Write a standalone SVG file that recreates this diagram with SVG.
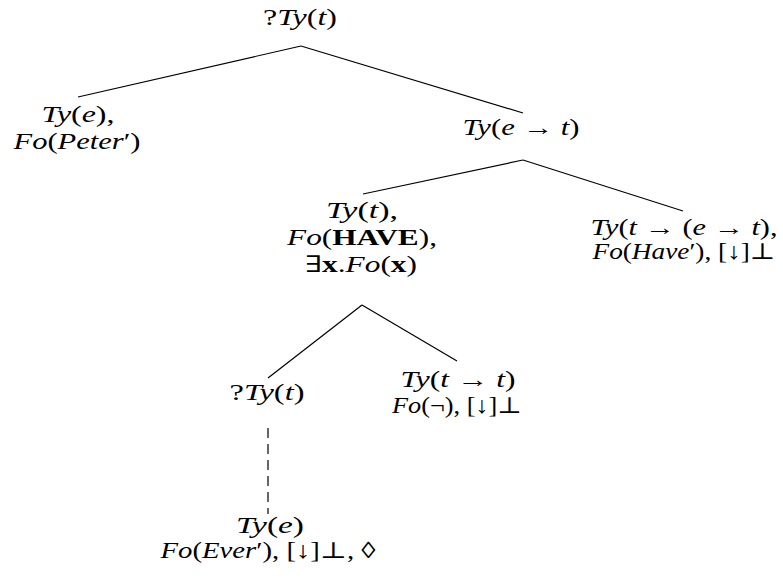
<svg xmlns="http://www.w3.org/2000/svg" width="783" height="582" viewBox="0 0 783 582">
<style>
text { font-family: "Liberation Serif", "DejaVu Serif", serif; font-size: 23px; fill: #000; text-anchor: middle; }
.i { font-style: italic; }
.b { font-weight: bold; }
.edge { stroke: #000; stroke-width: 1.2; fill: none; }
.dash { stroke-dasharray: 10 6; }
</style>
<rect width="783" height="582" fill="#fff"/>
<g id="connectors">
  <line class="edge" x1="301" y1="46" x2="78" y2="97"/>
  <line class="edge" x1="301" y1="46" x2="523" y2="113"/>
  <line class="edge" x1="523" y1="160" x2="363" y2="194"/>
  <line class="edge" x1="523" y1="160" x2="683" y2="211"/>
  <line class="edge" x1="362" y1="305" x2="268" y2="378"/>
  <line class="edge" x1="362" y1="305" x2="457" y2="361"/>
  <line class="edge dash" x1="268" y1="428" x2="268" y2="514"/>
</g>
<g id="root">
  <text x="300" y="25" textLength="74" lengthAdjust="spacingAndGlyphs">?<tspan class="i">Ty</tspan>(<tspan class="i">t</tspan>)</text>
</g>
<g id="peter">
  <text x="78" y="122" textLength="73" lengthAdjust="spacingAndGlyphs"><tspan class="i">Ty</tspan>(<tspan class="i">e</tspan>),</text>
  <text x="77" y="149" textLength="127" lengthAdjust="spacingAndGlyphs"><tspan class="i">Fo</tspan>(<tspan class="i">Peter</tspan>′)</text>
</g>
<g id="et">
  <text x="521" y="135" textLength="117" lengthAdjust="spacingAndGlyphs"><tspan class="i">Ty</tspan>(<tspan class="i">e</tspan> → <tspan class="i">t</tspan>)</text>
</g>
<g id="have">
  <text x="362" y="218" textLength="72" lengthAdjust="spacingAndGlyphs"><tspan class="i">Ty</tspan>(<tspan class="i">t</tspan>),</text>
  <text x="362" y="245" textLength="150" lengthAdjust="spacingAndGlyphs"><tspan class="i">Fo</tspan>(<tspan class="b">HAVE</tspan>),</text>
  <text x="361" y="272" textLength="112" lengthAdjust="spacingAndGlyphs">∃<tspan class="b">x</tspan>.<tspan class="i">Fo</tspan>(<tspan class="b">x</tspan>)</text>
</g>
<g id="havep">
  <text x="684" y="235" textLength="187" lengthAdjust="spacingAndGlyphs"><tspan class="i">Ty</tspan>(<tspan class="i">t</tspan> → (<tspan class="i">e</tspan> → <tspan class="i">t</tspan>),</text>
  <text x="684" y="259" textLength="183" lengthAdjust="spacingAndGlyphs"><tspan class="i">Fo</tspan>(<tspan class="i">Have</tspan>′), [↓]⊥</text>
</g>
<g id="qt">
  <text x="267" y="400" textLength="75" lengthAdjust="spacingAndGlyphs">?<tspan class="i">Ty</tspan>(<tspan class="i">t</tspan>)</text>
</g>
<g id="neg">
  <text x="458" y="387" textLength="115" lengthAdjust="spacingAndGlyphs"><tspan class="i">Ty</tspan>(<tspan class="i">t</tspan> → <tspan class="i">t</tspan>)</text>
  <text x="457" y="413" textLength="130" lengthAdjust="spacingAndGlyphs"><tspan class="i">Fo</tspan>(¬), [↓]⊥</text>
</g>
<g id="ever">
  <text x="270" y="533" textLength="68" lengthAdjust="spacingAndGlyphs"><tspan class="i">Ty</tspan>(<tspan class="i">e</tspan>)</text>
  <text x="268" y="558" textLength="215" lengthAdjust="spacingAndGlyphs"><tspan class="i">Fo</tspan>(<tspan class="i">Ever</tspan>′), [↓]⊥, ◊</text>
</g>
</svg>
